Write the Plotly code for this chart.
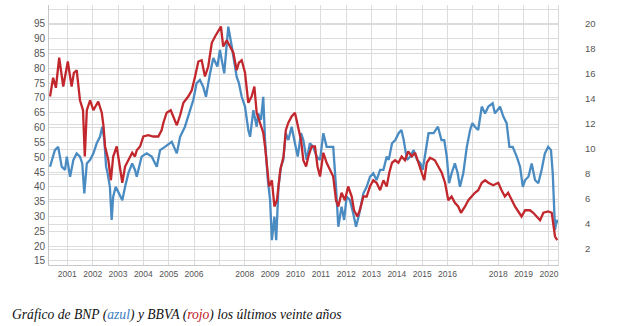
import plotly.graph_objects as go

# ---- data (x in decimal years) ----
bnp_x = [2000.32, 2000.51, 2000.64, 2000.78, 2000.91, 2000.98, 2001.11, 2001.24, 2001.37, 2001.50,
         2001.59, 2001.67, 2001.77, 2001.90, 2002.03, 2002.16, 2002.29, 2002.38, 2002.46, 2002.53,
         2002.59, 2002.68, 2002.75, 2002.81, 2002.91, 2003.04, 2003.17, 2003.28, 2003.41, 2003.56,
         2003.67, 2003.74, 2003.93, 2004.13, 2004.33, 2004.53, 2004.66, 2004.85, 2005.12, 2005.32,
         2005.45, 2005.64, 2005.84, 2005.97, 2006.10, 2006.23, 2006.36, 2006.47, 2006.63, 2006.76,
         2006.92, 2007.02, 2007.19, 2007.35, 2007.49, 2007.58, 2007.68, 2007.77, 2007.88, 2008.01,
         2008.14, 2008.21, 2008.34, 2008.47, 2008.53, 2008.64, 2008.73, 2008.80, 2008.91, 2009.00,
         2009.07, 2009.17, 2009.24, 2009.33, 2009.43, 2009.52, 2009.62, 2009.72, 2009.85, 2009.98,
         2010.09, 2010.22, 2010.31, 2010.44, 2010.57, 2010.70, 2010.84, 2010.97, 2011.10, 2011.23,
         2011.36, 2011.49, 2011.60, 2011.69, 2011.82, 2011.92, 2012.02, 2012.15, 2012.28, 2012.39,
         2012.52, 2012.68, 2012.81, 2012.94, 2013.07, 2013.20, 2013.34, 2013.47, 2013.60, 2013.68,
         2013.81, 2013.94, 2014.07, 2014.18, 2014.27, 2014.40, 2014.53, 2014.66, 2014.80, 2014.93,
         2015.02, 2015.12, 2015.25, 2015.45, 2015.62, 2015.76, 2015.87, 2015.97, 2016.06, 2016.16,
         2016.29, 2016.40, 2016.49, 2016.62, 2016.76, 2016.89, 2016.98, 2017.08, 2017.21, 2017.35,
         2017.48, 2017.61, 2017.78, 2017.87, 2018.07, 2018.20, 2018.33, 2018.44, 2018.57, 2018.73,
         2018.86, 2018.97, 2019.06, 2019.19, 2019.32, 2019.45, 2019.58, 2019.71, 2019.84, 2019.97,
         2020.08, 2020.15, 2020.20, 2020.24, 2020.30, 2020.35]
bnp_y = [46.8, 52.4, 53.5, 46.8, 45.7, 50.2, 43.4, 49.1, 51.3, 50.2,
         47.9, 37.8, 47.9, 49.1, 51.3, 54.7, 56.9, 60.3, 55.8, 46.8,
         44.6, 40.0, 28.8, 36.7, 40.0, 37.8, 35.5, 40.0, 44.6, 47.9,
         45.7, 43.4, 50.2, 51.3, 50.2, 46.8, 52.4, 53.5, 55.2, 51.3,
         56.9, 60.3, 65.9, 69.3, 75.0, 76.1, 73.8, 70.4, 78.3, 83.5,
         80.6, 86.2, 78.3, 94.1, 87.3, 82.8, 77.2, 75.0, 70.4, 67.1,
         59.2, 56.9, 65.9, 60.3, 64.8, 62.6, 70.4, 55.8, 42.3, 35.5,
         22.0, 29.9, 22.0, 40.0, 46.8, 49.1, 58.1, 55.8, 60.3, 54.7,
         50.2, 58.1, 55.8, 49.1, 54.7, 53.5, 50.2, 49.1, 58.1, 53.5,
         53.5, 53.5, 40.0, 26.5, 33.3, 28.8, 36.7, 35.5, 31.0, 26.5,
         31.0, 37.8, 40.0, 43.4, 44.6, 42.3, 45.7, 45.7, 50.2, 49.1,
         54.7, 55.8, 58.1, 59.2, 55.8, 49.1, 50.2, 52.4, 49.1, 47.9,
         45.7, 51.3, 58.1, 58.1, 60.3, 55.8, 55.8, 50.2, 41.2, 44.6,
         47.9, 44.6, 40.0, 44.6, 53.5, 59.2, 61.5, 60.3, 59.2, 67.1,
         64.8, 67.1, 68.2, 64.8, 67.1, 63.7, 61.5, 53.5, 53.5, 50.2,
         46.8, 40.0, 42.3, 43.4, 47.9, 42.3, 41.2, 45.7, 51.3, 53.5,
         52.4, 44.6, 35.5, 25.4, 28.8, 27.7]

bbva_x = [2000.32, 2000.44, 2000.55, 2000.68, 2000.84, 2001.02, 2001.17, 2001.26, 2001.37, 2001.50,
          2001.62, 2001.69, 2001.77, 2001.90, 2002.03, 2002.22, 2002.36, 2002.43, 2002.49, 2002.62,
          2002.72, 2002.81, 2002.95, 2003.08, 2003.17, 2003.28, 2003.41, 2003.56, 2003.67, 2003.74,
          2003.87, 2004.00, 2004.20, 2004.39, 2004.59, 2004.72, 2004.79, 2004.92, 2005.08, 2005.18,
          2005.32, 2005.45, 2005.58, 2005.77, 2005.91, 2006.04, 2006.17, 2006.30, 2006.43, 2006.56,
          2006.70, 2006.83, 2006.96, 2007.06, 2007.15, 2007.29, 2007.42, 2007.55, 2007.68, 2007.77,
          2007.88, 2008.01, 2008.14, 2008.27, 2008.38, 2008.47, 2008.60, 2008.73, 2008.80, 2008.87,
          2008.96, 2009.07, 2009.17, 2009.27, 2009.40, 2009.53, 2009.62, 2009.72, 2009.85, 2009.98,
          2010.09, 2010.22, 2010.31, 2010.42, 2010.51, 2010.64, 2010.77, 2010.87, 2010.97, 2011.10,
          2011.23, 2011.36, 2011.49, 2011.60, 2011.69, 2011.82, 2011.95, 2012.08, 2012.22, 2012.31,
          2012.44, 2012.54, 2012.68, 2012.81, 2012.94, 2013.07, 2013.20, 2013.34, 2013.47, 2013.60,
          2013.70, 2013.81, 2013.93, 2014.06, 2014.19, 2014.32, 2014.45, 2014.59, 2014.72, 2014.85,
          2014.98, 2015.08, 2015.18, 2015.31, 2015.50, 2015.63, 2015.77, 2015.90, 2016.03, 2016.16,
          2016.29, 2016.42, 2016.53, 2016.69, 2016.82, 2016.95, 2017.08, 2017.21, 2017.35, 2017.48,
          2017.61, 2017.80, 2018.00, 2018.13, 2018.26, 2018.39, 2018.53, 2018.66, 2018.79, 2018.92,
          2019.06, 2019.25, 2019.38, 2019.52, 2019.65, 2019.78, 2019.97, 2020.11, 2020.17, 2020.24,
          2020.33]
bbva_y = [14.2, 15.7, 14.9, 17.3, 15.0, 17.0, 15.0, 16.1, 16.3, 13.9,
          13.1, 9.4, 13.1, 13.9, 13.1, 13.8, 12.9, 11.8, 10.2, 9.1,
          7.5, 9.4, 10.2, 8.3, 7.3, 8.6, 9.1, 9.7, 9.4, 9.9,
          10.2, 11.0, 11.1, 11.0, 11.0, 11.5, 12.1, 12.9, 13.1, 12.6,
          11.9, 12.7, 13.7, 14.2, 14.7, 15.8, 17.0, 17.1, 15.8, 16.6,
          18.5, 19.0, 19.5, 19.8, 18.2, 18.7, 18.2, 17.7, 16.3, 16.9,
          17.1, 16.1, 13.7, 14.2, 15.0, 12.9, 12.1, 11.3, 10.2, 8.9,
          7.0, 7.5, 5.4, 5.9, 8.3, 9.4, 11.5, 12.1, 12.6, 12.9,
          11.8, 10.7, 9.1, 8.6, 9.4, 10.2, 10.2, 8.6, 7.8, 9.7,
          8.9, 8.3, 7.8, 5.9, 5.4, 6.5, 5.9, 7.0, 6.2, 5.1,
          4.6, 5.1, 6.2, 6.2, 7.0, 7.5, 7.3, 6.7, 7.5, 7.0,
          8.1, 8.9, 9.1, 8.9, 9.4, 9.1, 9.8, 9.4, 9.7, 8.9,
          8.1, 7.5, 8.9, 9.3, 9.1, 8.6, 8.1, 7.3, 5.9, 6.2,
          5.7, 5.4, 4.9, 5.4, 5.9, 6.2, 6.5, 6.7, 7.3, 7.5,
          7.3, 7.1, 7.3, 6.7, 6.2, 6.5, 5.9, 5.4, 5.0, 4.6,
          5.1, 5.1, 4.9, 4.6, 4.3, 4.9, 5.0, 4.9, 3.8, 3.0,
          2.7]

year_ticks = list(range(2001, 2021))
year_labels = ["" if y in (2007, 2017) else str(y) for y in year_ticks]
left_ticks = list(range(15, 101, 5))
left_labels = ["" if v == 100 else str(v) for v in left_ticks]
right_ticks = list(range(2, 21, 2))

BLUE = "#4a8bc2"
RED = "#c1272d"
GRID = "#dcdcdc"
TICKFONT = dict(family="Liberation Sans, Arial, sans-serif", size=10, color="#555555")

fig = go.Figure()
fig.add_trace(go.Scatter(x=bnp_x, y=bnp_y, mode="lines", name="BNP",
                         line=dict(color=BLUE, width=2.3), yaxis="y"))
fig.add_trace(go.Scatter(x=bbva_x, y=bbva_y, mode="lines", name="BBVA",
                         line=dict(color=RED, width=2.3), yaxis="y2"))

fig.update_layout(
    width=629, height=326,
    margin=dict(l=49, r=71, t=5, b=61),
    paper_bgcolor="white", plot_bgcolor="white",
    showlegend=False,
    xaxis=dict(range=[2000.278, 2020.357], tickvals=year_ticks, ticktext=year_labels,
               showgrid=True, gridcolor=GRID, gridwidth=1, zeroline=False,
               showline=True, linecolor="#c8c8c8", linewidth=1,
               tickfont=dict(family="Liberation Sans Narrow, Liberation Sans, Arial, sans-serif",
                             size=8.5, color="#555555"),
               ticks="", ticklabelstandoff=1),
    yaxis=dict(range=[13.6, 101.4], tickvals=left_ticks, ticktext=left_labels,
               showgrid=True, gridcolor=GRID, gridwidth=1, zeroline=False,
               showline=True, linecolor="#c8c8c8", linewidth=1,
               tickfont=TICKFONT, ticks="", ticklabelstandoff=1),
    yaxis2=dict(range=[0.72, 21.52], tickvals=right_ticks, overlaying="y", side="right",
                showgrid=True, gridcolor=GRID, gridwidth=1, zeroline=False,
                showline=True, linecolor="#d8d8d8", linewidth=1,
                tickfont=dict(family="Liberation Sans, Arial, sans-serif", size=9.5, color="#555555"),
                ticks="", ticklabelstandoff=24),
)

caption = ("Gráfico de BNP (<span style='color:#3b7dc0'>azul</span>) y BBVA "
           "(<span style='color:#c0141c'>rojo</span>) los últimos veinte años")
fig.add_annotation(text=caption, xref="paper", yref="paper",
                   x=(10 - 49) / 509, y=(265 - 315) / 260, xanchor="left", yanchor="middle",
                   showarrow=False,
                   font=dict(family="Liberation Serif, Times New Roman, serif", size=13.6,
                             color="#111111", style="italic"))

fig.write_html("out.html")
